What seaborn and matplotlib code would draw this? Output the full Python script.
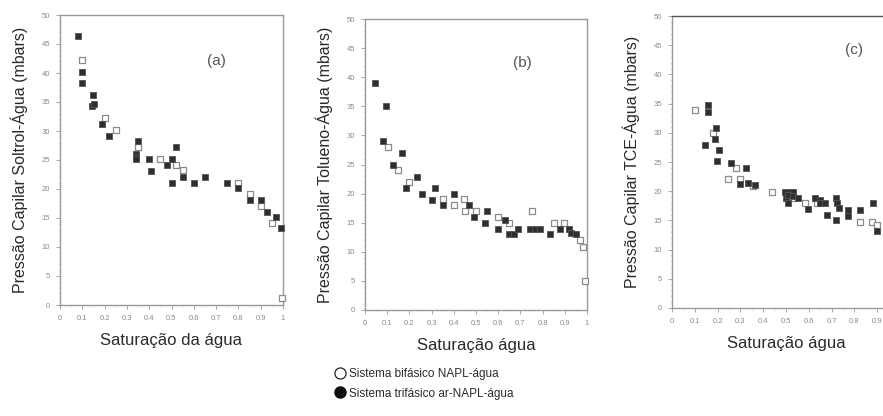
import matplotlib
matplotlib.use("Agg")
import matplotlib.pyplot as plt
from matplotlib.lines import Line2D
from matplotlib.ticker import MultipleLocator
import seaborn as sns
import pandas as pd

# ---------------- data ----------------
a_bi_x = [0.10, 0.20, 0.25, 0.35, 0.45, 0.52, 0.55, 0.80, 0.85, 0.90, 0.95, 0.995]
a_bi_y = [42.2, 32.3, 30.2, 27.3, 25.1, 24.1, 23.3, 21.1, 19.1, 17.1, 14.1, 1.2]
a_tri_x = [0.082, 0.10, 0.10, 0.149, 0.144, 0.153, 0.19, 0.22, 0.35, 0.34, 0.34, 0.34,
           0.40, 0.41, 0.48, 0.50, 0.52, 0.50, 0.55, 0.60, 0.65, 0.75, 0.80, 0.85,
           0.90, 0.93, 0.97, 0.99]
a_tri_y = [46.3, 40.2, 38.2, 36.2, 34.3, 34.6, 31.2, 29.1, 28.2, 26.1, 25.6, 25.1,
           25.1, 23.1, 24.1, 25.1, 27.2, 21.1, 22.1, 21.1, 22.1, 21.1, 20.1, 18.1,
           18.1, 16.1, 15.1, 13.2]

b_bi_x = [0.105, 0.15, 0.20, 0.353, 0.40, 0.447, 0.45, 0.50, 0.60, 0.65, 0.75,
          0.85, 0.895, 0.967, 0.98, 0.99]
b_bi_y = [28.0, 24.0, 22.0, 19.0, 18.0, 19.0, 17.0, 17.0, 16.0, 15.0, 17.0,
          15.0, 15.0, 12.0, 10.9, 4.9]
b_tri_x = [0.045, 0.095, 0.083, 0.125, 0.165, 0.185, 0.233, 0.256, 0.30, 0.316,
           0.353, 0.40, 0.47, 0.489, 0.54, 0.55, 0.60, 0.63, 0.647, 0.672, 0.69,
           0.744, 0.767, 0.79, 0.835, 0.877, 0.92, 0.93, 0.95]
b_tri_y = [39.0, 35.1, 29.0, 25.0, 27.0, 20.9, 22.9, 20.0, 18.9, 20.9,
           18.0, 20.0, 18.0, 16.0, 15.0, 17.0, 14.0, 15.5, 13.0, 13.0, 14.0,
           14.0, 14.0, 14.0, 13.0, 14.0, 14.0, 13.3, 13.0]

c_bi_x = [0.101, 0.179, 0.247, 0.28, 0.297, 0.356, 0.437, 0.534, 0.583, 0.637,
          0.823, 0.875, 0.897]
c_bi_y = [33.9, 30.0, 22.1, 24.0, 22.1, 20.9, 19.9, 18.8, 18.0, 18.0,
          14.8, 14.8, 14.2]
c_tri_x = [0.16, 0.16, 0.146, 0.193, 0.189, 0.207, 0.199, 0.257, 0.325, 0.30,
           0.335, 0.365, 0.496, 0.518, 0.531, 0.502, 0.509, 0.51, 0.53, 0.554,
           0.598, 0.627, 0.649, 0.649, 0.671, 0.678, 0.72, 0.723, 0.734, 0.72,
           0.77, 0.77, 0.823, 0.882, 0.90]
c_tri_y = [34.8, 33.6, 27.9, 30.8, 28.9, 27.0, 25.1, 24.9, 23.9, 21.2,
           21.4, 21.1, 19.9, 19.9, 19.9, 18.8, 18.0, 19.3, 19.2, 18.8,
           16.9, 18.8, 18.5, 18.0, 18.0, 16.0, 18.8, 18.0, 17.1, 15.0,
           16.8, 15.8, 16.8, 18.0, 13.1]

ylabels = ["Pressão Capilar Soltrol-Água (mbars)",
           "Pressão Capilar Tolueno-Água (mbars)",
           "Pressão Capilar TCE-Água (mbars)"]
xlabels = ["Saturação da água", "Saturação água", "Saturação água"]
panel_tags = ["(a)", "(b)", "(c)"]
tag_pos = [(0.70, 42.0), (0.71, 42.4), (0.80, 44.2)]
x_ticks = [0, 0.1, 0.2, 0.3, 0.4, 0.5, 0.6, 0.7, 0.8, 0.9, 1]
x_ticklabels = ["0", "0.1", "0.2", "0.3", "0.4", "0.5", "0.6", "0.7", "0.8", "0.9", "1"]
y_ticks = [0, 5, 10, 15, 20, 25, 30, 35, 40, 45, 50]
y_ticklabels = ["0", "5", "10", "15", "20", "25", "30", "35", "40", "45", "50"]
legend_labels = ["Sistema bifásico NAPL-água", "Sistema trifásico ar-NAPL-água"]

# ---------------- figure ----------------
sns.set_style("white")
plt.rcParams["font.family"] = ["Liberation Sans", "DejaVu Sans"]

fig = plt.figure(figsize=(8.83, 4.16), dpi=100)
fig.patch.set_facecolor("white")

W, H = 883.0, 416.0
# axes boxes in pixels: left, top, right, bottom (third panel runs past the image edge)
boxes = [(60, 15, 283, 305), (365, 19, 587, 310), (672, 16, 900, 308)]
panels = [(a_bi_x, a_bi_y, a_tri_x, a_tri_y),
          (b_bi_x, b_bi_y, b_tri_x, b_tri_y),
          (c_bi_x, c_bi_y, c_tri_x, c_tri_y)]

spine_col = "#9a9a9a"
tick_col = "#8a8a8a"
text_col = "#2a2a2a"

for i, (box, data) in enumerate(zip(boxes, panels)):
    l, t, r, b = box
    ax = fig.add_axes([l / W, 1 - b / H, (r - l) / W, (b - t) / H])
    bx, by, tx, ty = data
    df_bi = pd.DataFrame({"x": bx, "y": by})
    df_tri = pd.DataFrame({"x": tx, "y": ty})
    sns.scatterplot(data=df_bi, x="x", y="y", ax=ax, marker="s", s=22,
                    facecolor="white", edgecolor="#8c8c8c", linewidth=0.9,
                    zorder=3)
    sns.scatterplot(data=df_tri, x="x", y="y", ax=ax, marker="s", s=22,
                    color="#2e2e2e", edgecolor="#555555", linewidth=0.6,
                    zorder=4)
    for coll in ax.collections:
        coll.set_clip_on(False)
    ax.set_xlim(0, 1)
    ax.set_ylim(0, 50)
    ax.set_xticks(x_ticks)
    labels = list(x_ticklabels)
    if i == 2:
        labels[-1] = ""  # falls outside the cropped image
    ax.set_xticklabels(labels)
    ax.set_yticks(y_ticks)
    ax.set_yticklabels(y_ticklabels)
    ax.xaxis.set_minor_locator(MultipleLocator(0.05))
    ax.yaxis.set_minor_locator(MultipleLocator(1))
    ax.tick_params(axis="both", which="major", direction="out", length=3,
                   width=0.6, color=spine_col, labelsize=5.5,
                   labelcolor=tick_col, pad=4, bottom=True, left=True)
    ax.tick_params(axis="both", which="minor", direction="out", length=1.5,
                   width=0.4, color="#c4c4c4", bottom=True, left=True)
    for sp in ax.spines.values():
        sp.set_visible(True)
        sp.set_color(spine_col)
        sp.set_linewidth(1.0)
    if i == 2:
        ax.spines["top"].set_color("#555555")
    ax.set_xlabel(xlabels[i], fontsize=12, color=text_col, labelpad=8)
    ax.set_ylabel(ylabels[i], fontsize=11.5, color=text_col, labelpad=10)
    ax.text(tag_pos[i][0], tag_pos[i][1], panel_tags[i], fontsize=11,
            color="#555555", ha="center", va="center")

handles = [Line2D([], [], marker="o", linestyle="", markersize=8,
                  markerfacecolor="white", markeredgecolor="#222222",
                  markeredgewidth=0.9),
           Line2D([], [], marker="o", linestyle="", markersize=8,
                  markerfacecolor="#111111", markeredgecolor="#111111")]
fig.legend(handles, legend_labels, loc="center left",
           bbox_to_anchor=(328 / W, 1 - 384 / H), frameon=False,
           fontsize=8.5, handletextpad=0.3, labelspacing=0.6,
           borderpad=0, handlelength=1.0, labelcolor=text_col)

fig.savefig("out.png", dpi=100, facecolor="white")
